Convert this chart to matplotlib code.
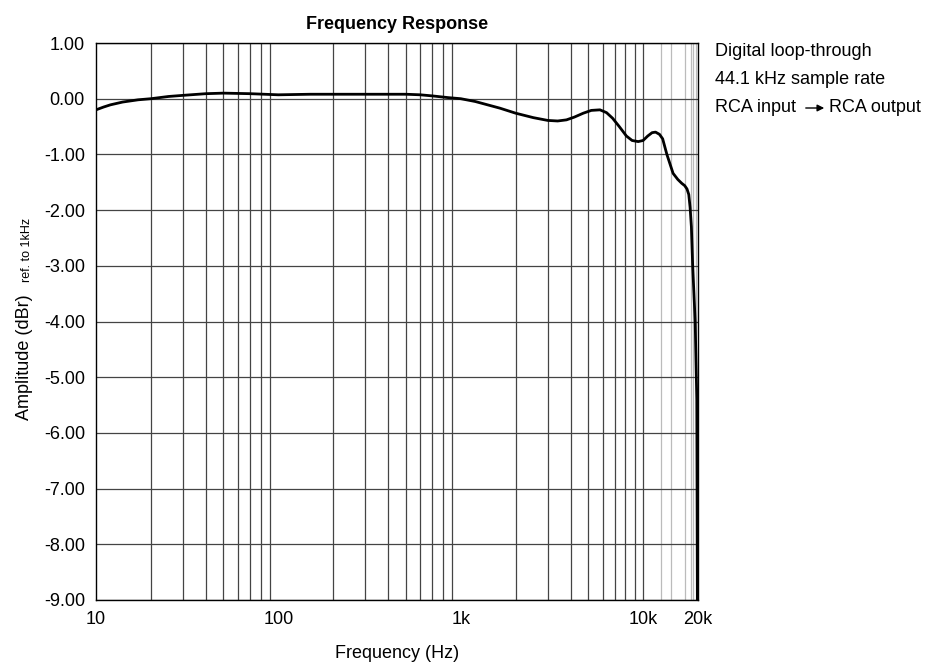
import numpy as np
import matplotlib
matplotlib.use("Agg")
import matplotlib.pyplot as plt

plt.rcParams['font.family'] = ['Liberation Sans', 'DejaVu Sans']

# response (Hz, dBr)
freq = [10, 11, 12, 14, 17, 20, 25, 30, 40, 50, 70, 100, 150, 200, 300,
        500, 600, 700, 850, 1000, 1200, 1640, 2000, 2500, 3000, 3400, 3800,
        4200, 4700, 5200, 5800, 6300, 6800, 7400, 8100, 8700, 9400, 10000,
        10600, 11200, 11700, 12300, 12800, 13500, 14600, 15500, 16300, 16900,
        17400, 17800, 18100, 18400, 18700, 19000, 19300, 19700, 19850]
amp = [-0.20, -0.15, -0.11, -0.06, -0.02, 0.00, 0.04, 0.06, 0.09, 0.10,
       0.09, 0.07, 0.08, 0.08, 0.08, 0.08, 0.07, 0.05, 0.02, 0.00, -0.05,
       -0.17, -0.26, -0.34, -0.39, -0.40, -0.38, -0.33, -0.26, -0.21, -0.20,
       -0.25, -0.35, -0.50, -0.67, -0.75, -0.77, -0.75, -0.67, -0.61, -0.60,
       -0.64, -0.72, -1.00, -1.34, -1.45, -1.52, -1.56, -1.62, -1.72, -1.95,
       -2.30, -3.00, -3.50, -4.00, -5.40, -9.00]

xticks = [10, 100, 1000, 10000, 20000]
xtick_labels = ['10', '100', '1k', '10k', '20k']
yticks = list(range(-9, 2))
ytick_labels = ['%.2f' % v for v in yticks]

dark_grid = [m * 10 ** e for e in range(1, 4) for m in range(2, 10)] + [10000]
light_grid = [12500, 14300, 17000, 18200, 18800, 19400]

fig = plt.figure(figsize=(9.25, 6.63), dpi=100)
ax = fig.add_axes([96 / 925, 1 - 600 / 663, 602 / 925, 557 / 663])
ax.set_xscale('log')
ax.set_xlim(10, 20000)
ax.set_ylim(-9, 1)

for f in dark_grid:
    ax.axvline(f, color='#444444', lw=0.9, zorder=1)
for f in light_grid:
    ax.axvline(f, color='#bbbbbb', lw=0.9, zorder=1)
for v in yticks:
    ax.axhline(v, color='#444444', lw=0.9, zorder=1)

ax.plot(freq, amp, color='black', lw=2.0, zorder=3,
        solid_capstyle='round', solid_joinstyle='round')

ax.set_xticks(xticks)
ax.set_xticklabels(xtick_labels)
ax.xaxis.set_minor_locator(matplotlib.ticker.NullLocator())
ax.set_yticks(yticks)
ax.set_yticklabels(ytick_labels)
ax.tick_params(length=0, labelsize=13, pad=8)
for s in ax.spines.values():
    s.set_color('black')
    s.set_linewidth(1.0)

ax.set_xlabel('Frequency (Hz)', fontsize=13, labelpad=12)
ax.set_title('Frequency Response', fontsize=13, fontweight='bold', pad=10)

fig.text(33 / 925, 1 - 357 / 663, 'Amplitude (dBr)', rotation=90, fontsize=13,
         ha='right', va='center')
fig.text(33 / 925, 1 - 250 / 663, 'ref. to 1kHz', rotation=90, fontsize=9,
         ha='right', va='center')

tx = 715 / 925
fig.text(tx, 1 - 52 / 663, 'Digital loop-through', fontsize=13, va='center')
fig.text(tx, 1 - 80 / 663, '44.1 kHz sample rate', fontsize=13, va='center')
fig.text(tx, 1 - 108 / 663, 'RCA input', fontsize=13, va='center')
fig.text(829 / 925, 1 - 108 / 663, 'RCA output', fontsize=13, va='center')
fig.patches.append(matplotlib.patches.FancyArrowPatch(
    (803 / 925, 1 - 108 / 663), (827 / 925, 1 - 108 / 663),
    transform=fig.transFigure, arrowstyle='-|>', mutation_scale=10,
    color='black', lw=1.0))

fig.savefig('out.png', dpi=100)
